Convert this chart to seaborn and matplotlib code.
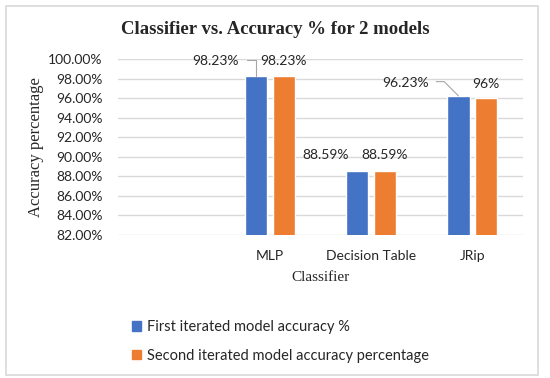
import pandas as pd
import matplotlib.pyplot as plt
import matplotlib.patches as mpatches
import seaborn as sns

# data
classifiers = ['', 'MLP', 'Decision Table', 'JRip']
present = ['MLP', 'Decision Table', 'JRip']
first_acc = [98.23, 88.59, 96.23]
second_acc = [98.23, 88.59, 96.0]
first_labels = ['98.23%', '88.59%', '96.23%']
second_labels = ['98.23%', '88.59%', '96%']
series = ['First iterated model accuracy %', 'Second iterated model accuracy percentage']
yticks = [82, 84, 86, 88, 90, 92, 94, 96, 98, 100]

df = pd.DataFrame({
    'Classifier': present * 2,
    'Accuracy': first_acc + second_acc,
    'Model': [series[0]] * 3 + [series[1]] * 3,
})

sns.set_style('white')
plt.rcParams['font.family'] = ['Lato', 'DejaVu Sans']
blue, orange = '#4472C4', '#ED7D31'

fig, ax = plt.subplots(figsize=(5.5, 3.78), dpi=100)
fig.subplots_adjust(left=118/550, right=523/550, top=1-59/378, bottom=1-235/378)

sns.barplot(data=df, x='Classifier', y='Accuracy', hue='Model', order=classifiers,
            hue_order=series, palette=[blue, orange], width=0.55, gap=0.2,
            saturation=1, ax=ax, legend=False)

ax.set_ylim(82, 100)
ax.set_yticks(yticks)
ax.set_yticklabels([f'{v:.2f}%' for v in yticks], fontsize=10)
ax.tick_params(axis='y', length=0, pad=11)
ax.tick_params(axis='x', length=0, pad=11, labelsize=10)
ax.yaxis.grid(True, color='#D9D9D9', lw=1)
ax.set_axisbelow(True)
for s in ax.spines.values():
    s.set_visible(False)

ax.set_xlabel('Classifier', family='Liberation Serif', fontsize=11, labelpad=6)
ax.set_ylabel('Accuracy percentage', family='Liberation Serif', fontsize=12, labelpad=3)
fig.suptitle('Classifier vs. Accuracy % for 2 models', family='Liberation Serif',
             fontweight='bold', fontsize=13.5, y=1-30/378, x=0.5, va='center')

# data labels (blue ones for MLP and JRip sit to the left with a leader line)
blue_offsets = {'MLP': (-40, 15, 90), 'Decision Table': (-32, 16, None), 'JRip': (-53, 13, 135)}
orange_dy = {'MLP': 15, 'Decision Table': 16, 'JRip': 14}
for hue_i, labels in enumerate([first_labels, second_labels]):
    for bar, name, lab in zip(ax.containers[hue_i], present, labels):
        cx = bar.get_x() + bar.get_width() / 2
        top = bar.get_height()
        if hue_i == 0:
            dx, dy, angle_b = blue_offsets[name]
            arrow = None
            if angle_b is not None:
                arrow = dict(arrowstyle='-', color='#A6A6A6', lw=0.8, shrinkA=3, shrinkB=0,
                             relpos=(1, 0.6),
                             connectionstyle=f'angle,angleA=0,angleB={angle_b},rad=0')
            ax.annotate(lab, (cx, top), xytext=(dx, dy), textcoords='offset pixels',
                        ha='center', va='center', fontsize=10, arrowprops=arrow,
                        annotation_clip=False)
        else:
            ax.annotate(lab, (cx, top), xytext=(0, orange_dy[name]), textcoords='offset pixels',
                        ha='center', va='center', fontsize=10, annotation_clip=False)

handles = [mpatches.Patch(color=blue), mpatches.Patch(color=orange)]
fig.legend(handles, series, loc='upper left', bbox_to_anchor=(119/550, 1-307/378),
           frameon=False, fontsize=10.5, handlelength=0.6, handleheight=0.6,
           handletextpad=0.4, labelspacing=1.0)

fig.patches.append(mpatches.Rectangle((6/550, 3/378), 532/550, 369/378, transform=fig.transFigure,
                                      fill=False, edgecolor='#D9D9D9', lw=1.2))

plt.savefig('out.png', dpi=100)
